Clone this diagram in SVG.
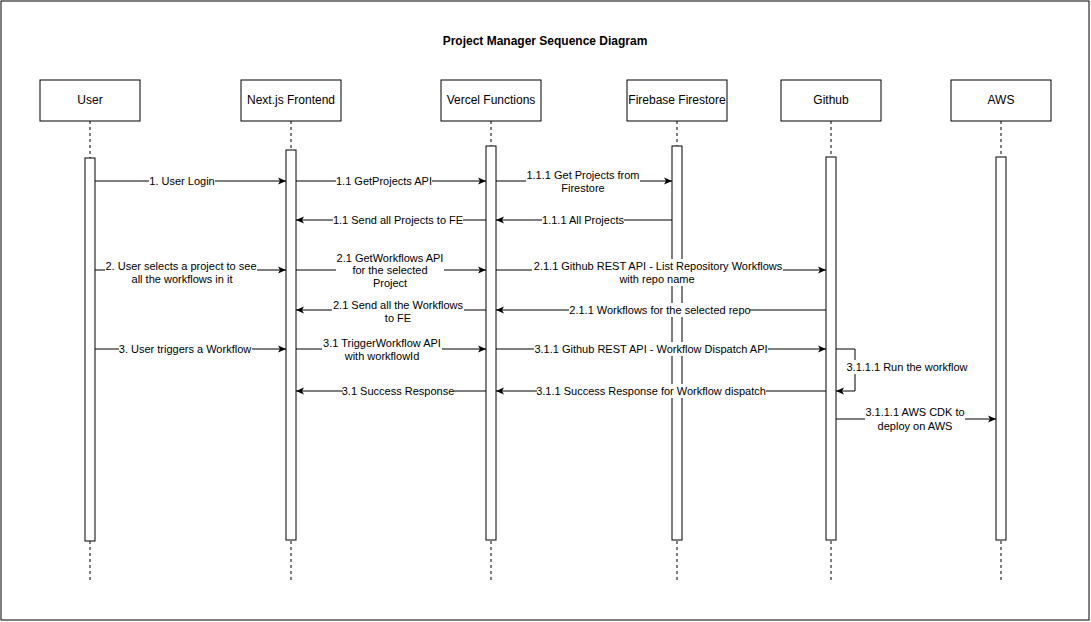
<svg xmlns="http://www.w3.org/2000/svg" width="1091" height="622" viewBox="0 0 1091 622">
<style>
.frame{fill:#fff;stroke:#000;stroke-width:1}
.box{fill:#fff;stroke:#000;stroke-width:1}
.life{stroke:#000;stroke-width:1;stroke-dasharray:3 3;fill:none}
.bar{fill:#fff;stroke:#000;stroke-width:1}
.msg{stroke:#000;stroke-width:1;fill:none;marker-end:url(#arr)}
.bg{fill:#fff;stroke:none}
.t{font-family:"Liberation Sans",Arial,sans-serif;font-size:11px;fill:#000;text-anchor:middle}
.n{font-family:"Liberation Sans",Arial,sans-serif;font-size:12px;fill:#000;text-anchor:middle}
.title{font-family:"Liberation Sans",Arial,sans-serif;font-size:12px;font-weight:bold;fill:#000;text-anchor:middle}
</style>
<defs>
<marker id="arr" markerUnits="userSpaceOnUse" viewBox="0 0 8 8" markerWidth="8" markerHeight="8" refX="8" refY="4" orient="auto">
<path d="M0,0.5 L8,4 L0,7.5 L2,4 z" fill="#000"/>
</marker>
</defs>
<rect class="frame" x="1" y="1" width="1088" height="619"/>
<text class="title" x="545" y="45">Project Manager Sequence Diagram</text>

<g id="user">
<line class="life" x1="90" y1="121" x2="90" y2="580"/>
<rect class="box" x="40" y="80" width="100" height="41"/>
<text class="n" x="90" y="104">User</text>
<rect class="bar" x="85" y="158" width="10" height="383"/>
</g>
<g id="nextjs">
<line class="life" x1="291" y1="121" x2="291" y2="580"/>
<rect class="box" x="241" y="80" width="100" height="41"/>
<text class="n" x="291" y="104">Next.js Frontend</text>
<rect class="bar" x="286" y="150" width="10" height="390"/>
</g>
<g id="vercel">
<line class="life" x1="491" y1="121" x2="491" y2="580"/>
<rect class="box" x="441" y="80" width="100" height="41"/>
<text class="n" x="491" y="104">Vercel Functions</text>
<rect class="bar" x="486" y="146" width="10" height="394"/>
</g>
<g id="firebase">
<line class="life" x1="677" y1="121" x2="677" y2="580"/>
<rect class="box" x="627" y="80" width="100" height="41"/>
<text class="n" x="677" y="104">Firebase Firestore</text>
<rect class="bar" x="672" y="146" width="10" height="394"/>
</g>
<g id="github">
<line class="life" x1="831" y1="121" x2="831" y2="580"/>
<rect class="box" x="781" y="80" width="100" height="41"/>
<text class="n" x="831" y="104">Github</text>
<rect class="bar" x="826" y="157" width="10" height="383"/>
</g>
<g id="aws">
<line class="life" x1="1001" y1="121" x2="1001" y2="580"/>
<rect class="box" x="951" y="80" width="100" height="41"/>
<text class="n" x="1001" y="104">AWS</text>
<rect class="bar" x="996" y="157" width="10" height="383"/>
</g>

<g id="connectors">
<line class="msg" x1="95" y1="181" x2="286" y2="181"/>
<line class="msg" x1="296" y1="181" x2="486" y2="181"/>
<line class="msg" x1="496" y1="181" x2="672" y2="181"/>
<line class="msg" x1="486" y1="220" x2="296" y2="220"/>
<line class="msg" x1="672" y1="220" x2="496" y2="220"/>
<line class="msg" x1="95" y1="270" x2="286" y2="270"/>
<line class="msg" x1="296" y1="270" x2="486" y2="270"/>
<line class="msg" x1="496" y1="270" x2="826" y2="270"/>
<line class="msg" x1="486" y1="310" x2="296" y2="310"/>
<line class="msg" x1="826" y1="310" x2="496" y2="310"/>
<line class="msg" x1="95" y1="349" x2="286" y2="349"/>
<line class="msg" x1="296" y1="349" x2="486" y2="349"/>
<line class="msg" x1="496" y1="349" x2="826" y2="349"/>
<path class="msg" d="M836,349 H855 V391 H836"/>
<line class="msg" x1="486" y1="391" x2="296" y2="391"/>
<line class="msg" x1="826" y1="391" x2="496" y2="391"/>
<line class="msg" x1="836" y1="419" x2="996" y2="419"/>

<rect class="bg" x="149" y="174" width="66" height="14"/>
<text class="t" x="182" y="185">1. User Login</text>
<rect class="bg" x="336" y="174" width="96" height="14"/>
<text class="t" x="384" y="185">1.1 GetProjects API</text>
<rect class="bg" x="526" y="168" width="114" height="27"/>
<text class="t" x="583" y="179">1.1.1 Get Projects from</text>
<text class="t" x="583" y="192">Firestore</text>
<rect class="bg" x="333" y="213" width="130" height="14"/>
<text class="t" x="398" y="224">1.1 Send all Projects to FE</text>
<rect class="bg" x="542" y="213" width="82" height="14"/>
<text class="t" x="583" y="224">1.1.1 All Projects</text>
<rect class="bg" x="105" y="259" width="152" height="27"/>
<text class="t" x="181" y="270">2. User selects a project to see</text>
<text class="t" x="182" y="283">all the workflows in it</text>
<rect class="bg" x="336" y="251" width="108" height="39"/>
<text class="t" x="390" y="262">2.1 GetWorkflows API</text>
<text class="t" x="390" y="274">for the selected</text>
<text class="t" x="390" y="287">Project</text>
<rect class="bg" x="532" y="259" width="251" height="27"/>
<text class="t" x="658" y="270">2.1.1 Github REST API - List Repository Workflows</text>
<text class="t" x="657" y="283">with repo name</text>
<rect class="bg" x="332" y="298" width="132" height="27"/>
<text class="t" x="398" y="309">2.1 Send all the Workflows</text>
<text class="t" x="398" y="322">to FE</text>
<rect class="bg" x="569" y="303" width="181" height="14"/>
<text class="t" x="660" y="314">2.1.1 Workflows for the selected repo</text>
<rect class="bg" x="119" y="342" width="133" height="14"/>
<text class="t" x="185" y="353">3. User triggers a Workflow</text>
<rect class="bg" x="322" y="336" width="120" height="27"/>
<text class="t" x="382" y="347">3.1 TriggerWorkflow API</text>
<text class="t" x="382" y="360">with workflowId</text>
<rect class="bg" x="534" y="342" width="234" height="14"/>
<text class="t" x="651" y="353">3.1.1 Github REST API - Workflow Dispatch API</text>
<rect class="bg" x="847" y="360" width="121" height="14"/>
<text class="t" x="907" y="371">3.1.1.1 Run the workflow</text>
<rect class="bg" x="343" y="384" width="111" height="14"/>
<text class="t" x="398" y="395">3.1 Success Response</text>
<rect class="bg" x="537" y="384" width="229" height="14"/>
<text class="t" x="651" y="395">3.1.1 Success Response for Workflow dispatch</text>
<rect class="bg" x="865" y="405" width="100" height="28"/>
<text class="t" x="915" y="416">3.1.1.1 AWS CDK to</text>
<text class="t" x="915" y="430">deploy on AWS</text>
</g>
</svg>
